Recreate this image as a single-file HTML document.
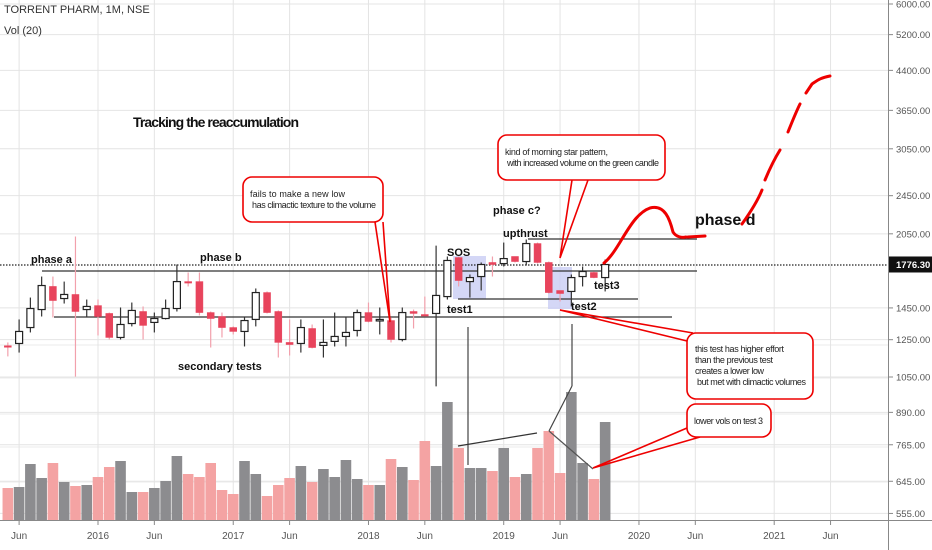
<!DOCTYPE html>
<html><head><meta charset="utf-8">
<style>
html,body{margin:0;padding:0;background:#fff;}
svg{display:block;font-family:"Liberation Sans",Arial,sans-serif;}
</style></head>
<body>
<svg id="chart" width="932" height="550" viewBox="0 0 932 550" xmlns="http://www.w3.org/2000/svg">
<g id="grid"></g>
<g id="vol"></g>
<g id="ann-back">
  <rect x="453" y="256" width="33" height="43" fill="#c9cdf4" opacity="0.8"/>
  <rect x="548" y="267" width="24" height="42" fill="#c9cdf4" opacity="0.8"/>
  <line x1="42" y1="271" x2="697" y2="271" stroke="#333" stroke-width="1.3"/>
  <line x1="54" y1="317" x2="672" y2="317" stroke="#333" stroke-width="1.3"/>
  <line x1="528" y1="239" x2="697" y2="239" stroke="#333" stroke-width="1.3"/>
  <line x1="458" y1="299" x2="638" y2="299" stroke="#333" stroke-width="1.3"/>
  <line x1="0" y1="265" x2="888" y2="265" stroke="#222" stroke-width="1.2" stroke-dasharray="1.5,1.5"/>
  <line x1="468" y1="327" x2="468" y2="465" stroke="#444" stroke-width="1.2"/>
  <line x1="572" y1="324" x2="572" y2="386" stroke="#444" stroke-width="1.2"/>
  <line x1="572" y1="386" x2="549" y2="431" stroke="#444" stroke-width="1.2"/>
  <line x1="458" y1="446" x2="537" y2="433" stroke="#333" stroke-width="1.2"/>
  <line x1="549" y1="431" x2="593" y2="469" stroke="#555" stroke-width="1.2"/>
</g>
<g id="candles"></g>
<g id="ann" font-size="11">
  <text x="4" y="13" font-size="11" fill="#333">TORRENT PHARM, 1M, NSE</text>
  <text x="4" y="34" font-size="11" fill="#333">Vol (20)</text>
  <text x="133" y="127" font-size="14" fill="#111" font-weight="bold" textLength="166">Tracking the reaccumulation</text>
  <text x="31" y="263" font-weight="bold" fill="#111">phase a</text>
  <text x="200" y="261" font-weight="bold" fill="#111">phase b</text>
  <text x="178" y="370" font-weight="bold" fill="#111">secondary tests</text>
  <text x="447" y="256" font-weight="bold" fill="#111">SOS</text>
  <text x="447" y="313" font-weight="bold" fill="#111">test1</text>
  <text x="503" y="237" font-weight="bold" fill="#111">upthrust</text>
  <text x="493" y="214" font-weight="bold" fill="#111">phase c?</text>
  <text x="571" y="310" font-weight="bold" fill="#111">test2</text>
  <text x="594" y="289" font-weight="bold" fill="#111">test3</text>
  <text x="695" y="225" font-size="16" font-weight="bold" fill="#111">phase d</text>

  <g>
    <polyline points="375,222 390,322 383,222" fill="none" stroke="#e00" stroke-width="1.6"/>
    <rect x="243" y="177" width="140" height="45" rx="9" fill="#fff" stroke="#e00" stroke-width="1.6"/>
    <text x="250" y="197" font-size="9" fill="#222" textLength="95">fails to make a new low</text>
    <text x="252" y="208" font-size="9" fill="#222" textLength="124">has climactic texture to the volume</text>
  </g>
  <g>
    <polyline points="572,180 560,258 588,180" fill="none" stroke="#e00" stroke-width="1.6"/>
    <rect x="498" y="135" width="167" height="45" rx="9" fill="#fff" stroke="#e00" stroke-width="1.6"/>
    <text x="505" y="155" font-size="9" fill="#222" textLength="103">kind of morning star pattern,</text>
    <text x="507" y="166" font-size="9" fill="#222" textLength="152">with increased volume on the green candle</text>
  </g>
  <g>
    <polyline points="693,333 560,310 687,341" fill="none" stroke="#e00" stroke-width="1.6"/>
    <rect x="687" y="333" width="126" height="66" rx="9" fill="#fff" stroke="#e00" stroke-width="1.6"/>
    <text x="695" y="352" font-size="9" fill="#222" textLength="89">this test has higher effort</text>
    <text x="695" y="363" font-size="9" fill="#222" textLength="78">than the previous test</text>
    <text x="695" y="374" font-size="9" fill="#222" textLength="69">creates a lower low</text>
    <text x="697" y="385" font-size="9" fill="#222" textLength="109">but met with climactic volumes</text>
  </g>
  <g>
    <polyline points="687,428 593,468 700,437" fill="none" stroke="#e00" stroke-width="1.6"/>
    <rect x="687" y="404" width="84" height="33" rx="9" fill="#fff" stroke="#e00" stroke-width="1.6"/>
    <text x="694" y="424" font-size="9" fill="#222" textLength="69">lower vols on test 3</text>
  </g>
  <path d="M604,263 C620,250 630,215 650,208 C665,204 670,220 673,232 C676,237 682,238 686,237" fill="none" stroke="#e00" stroke-width="3" stroke-linecap="round"/>
  <path d="M688,237 L705,236 M742,224 C752,210 758,200 762,190 M765,180 C770,168 775,158 780,150 M788,132 C792,122 796,112 800,104 M806,93 L812,84 C818,80 820,78 830,76" fill="none" stroke="#e00" stroke-width="3" stroke-linecap="round"/>
</g>
<g id="axes"></g>
</svg>
<script>
const months = [];
for (let m = 4; m <= 57; m++) months.push(m); // months since Jan 2015
const opens  = [1215,1228,1323,1439,1603,1515,1544,1439,1466,1413,1263,1348,1426,1355,1380,1446,1640,1640,1419,1393,1323,1299,1374,1558,1426,1234,1228,1317,1217,1240,1269,1305,1419,1374,1367,1251,1426,1406,1413,1529,1835,1640,1679,1793,1784,1844,1801,1959,1793,1573,1566,1679,1711,1671];
const highs  = [1234,1374,1522,1679,1679,1640,2024,1508,1508,1419,1453,1487,1460,1419,1508,1776,1711,1711,1426,1419,1330,1387,1588,1566,1433,1374,1374,1342,1374,1419,1387,1439,1487,1453,1387,1453,1439,1529,1940,1844,1844,1695,1793,1844,1968,1844,1996,1968,1801,1573,1695,1760,1719,1818];
const lows   = [1156,1177,1293,1393,1387,1480,1052,1387,1275,1251,1251,1330,1251,1293,1374,1426,1603,1400,1205,1263,1281,1211,1330,1413,1150,1161,1177,1200,1150,1211,1211,1269,1355,1281,1234,1240,1317,1393,1005,1508,1603,1522,1573,1679,1760,1793,1768,1784,1551,1494,1460,1603,1666,1566];
const closes = [1208,1299,1446,1610,1501,1544,1426,1460,1393,1263,1342,1433,1336,1380,1446,1640,1633,1419,1380,1323,1299,1367,1558,1419,1234,1222,1323,1205,1234,1269,1293,1419,1361,1374,1251,1419,1413,1400,1537,1810,1648,1671,1776,1776,1826,1801,1959,1793,1558,1551,1671,1719,1671,1776];
const volumes = [32,33,56,42,57,38,34,35,43,53,59,28,28,32,39,64,46,43,57,30,26,59,46,24,35,42,54,38,51,43,60,41,35,35,61,53,40,79,54,118,72,52,52,49,72,43,46,72,89,47,128,57,41,98];
const priceTicks = [6000,5200,4400,3650,3050,2450,2050,1450,1250,1050,890,765,645,555];
const timeLabels = ["Jun","2016","Jun","2017","Jun","2018","Jun","2019","Jun","2020","Jun","2021","Jun"];
const timeLabelMonths = [5,12,17,24,29,36,41,48,53,60,65,72,77];
const lastPrice = 1776.30;

const NS = "http://www.w3.org/2000/svg";
function x(m){ return 98 + (m - 12) * 11.27; }
function y(p){ return 4 + Math.log(6000 / p) * 214; }
function vy(v){ return 520 - v; }
function mk(tag, attrs, parent){
  const e = document.createElementNS(NS, tag);
  for (const k in attrs) e.setAttribute(k, attrs[k]);
  parent.appendChild(e); return e;
}
const grid = document.getElementById('grid');
const volG = document.getElementById('vol');
const cG = document.getElementById('candles');
const axG = document.getElementById('axes');

priceTicks.forEach(p => {
  const l = mk('line', {x1:0, x2:888, y1:y(p), y2:y(p), stroke:'#e4e4e4', 'stroke-width':1}, grid);
  
  
});
[345,378,414,447,482].forEach(yy => {
  mk('line', {x1:0, x2:888, y1:yy, y2:yy, stroke:'#ebebeb', 'stroke-width':1}, grid);
});
timeLabelMonths.forEach(m => {
  const l = mk('line', {x1:x(m), x2:x(m), y1:0, y2:520, stroke:'#e4e4e4', 'stroke-width':1}, grid);
  
  
});

volumes.forEach((v, i) => {
  const up = closes[i] >= opens[i];
  const r = mk('rect', {x:x(months[i]) - 5.3, y:vy(v), width:10.6, height:v, fill: up ? '#8c8c8f' : '#f4a3a3'}, volG);
  
  
});

months.forEach((m, i) => {
  const up = closes[i] >= opens[i];
  const cx = x(m);
  const w = mk('line', {x1:cx, x2:cx, y1:y(highs[i]), y2:y(lows[i]), stroke: up ? '#333' : '#f2a0ac', 'stroke-width':1.2}, cG);
  
  
  const top = y(Math.max(opens[i], closes[i]));
  const h = Math.max(1.5, y(Math.min(opens[i], closes[i])) - top);
  const b = mk('rect', {x:cx - 3.5, y:top, width:7, height:h,
    fill: up ? '#fff' : '#e8445c', stroke: up ? '#222' : '#e8445c', 'stroke-width': up ? 1.2 : 0.5}, cG);
  
  
});

mk('line', {x1:888.5, x2:888.5, y1:0, y2:550, stroke:'#888', 'stroke-width':1}, axG);
mk('line', {x1:0, x2:932, y1:520.5, y2:520.5, stroke:'#888', 'stroke-width':1}, axG);
priceTicks.forEach(p => {
  mk('line', {x1:888, x2:893, y1:y(p), y2:y(p), stroke:'#888'}, axG);
  const t = mk('text', {x:896, y:y(p) + 3.5, 'font-size':9.5, fill:'#555'}, axG);
  t.textContent = p.toFixed(2);
  
  
});
const lp = mk('rect', {x:889, y:y(lastPrice) - 8, width:43, height:16, fill:'#111'}, axG);


const lpt = mk('text', {x:896, y:y(lastPrice) + 3.5, 'font-size':9.5, fill:'#fff', 'font-weight':'bold'}, axG);
lpt.textContent = lastPrice.toFixed(2);


timeLabels.forEach((s, i) => {
  const cx = x(timeLabelMonths[i]);
  mk('line', {x1:cx, x2:cx, y1:520, y2:525, stroke:'#888'}, axG);
  const t = mk('text', {x:cx, y:539, 'font-size':10, fill:'#555', 'text-anchor':'middle'}, axG);
  t.textContent = s;
  
  
});
</script>
</body></html>
